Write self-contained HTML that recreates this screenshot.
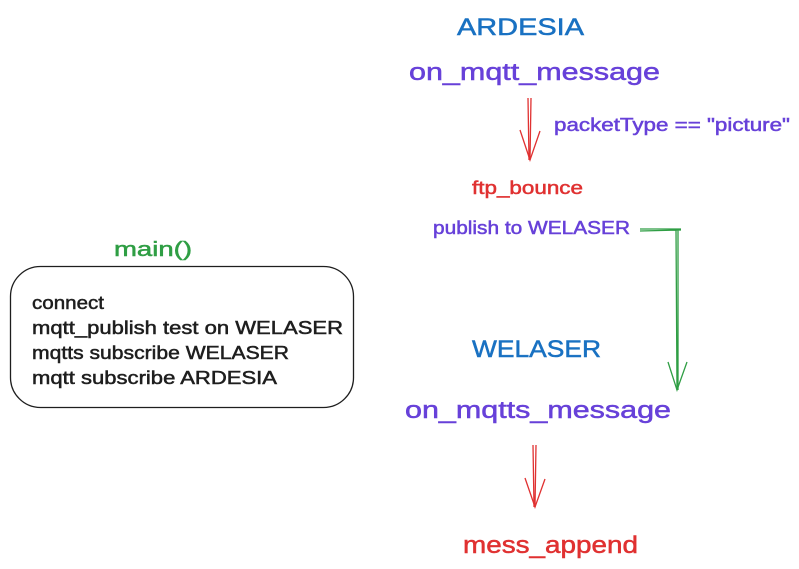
<!DOCTYPE html>
<html><head><style>html,body{margin:0;padding:0;background:#fff;}svg{display:block}text{stroke-width:0.5}</style></head>
<body>
<svg width="799" height="569" xmlns="http://www.w3.org/2000/svg" font-family="Liberation Sans, sans-serif">
<rect width="799" height="569" fill="#fff"/>
<text x="457" y="35" font-size="24" fill="#1971c2" stroke="#1971c2" textLength="127" lengthAdjust="spacingAndGlyphs">ARDESIA</text>
<text x="409" y="80" font-size="24" fill="#6741d9" stroke="#6741d9" textLength="251" lengthAdjust="spacingAndGlyphs">on_mqtt_message</text>
<g stroke="#e03131" stroke-width="1.3" fill="none">
<path d="M528 98 L529 160 M531 98 L530 160"/>
<path d="M520 130 L530 160 L540 131"/>
</g>
<text x="554" y="131" font-size="18" fill="#6741d9" stroke="#6741d9" textLength="236" lengthAdjust="spacingAndGlyphs">packetType == "picture"</text>
<text x="472" y="194" font-size="18" fill="#e03131" stroke="#e03131" textLength="111" lengthAdjust="spacingAndGlyphs">ftp_bounce</text>
<text x="433" y="234" font-size="18" fill="#6741d9" stroke="#6741d9" textLength="197" lengthAdjust="spacingAndGlyphs">publish to WELASER</text>
<g stroke="#2f9e44" stroke-width="1.3" fill="none">
<path d="M640 229 L681 229 M640 231 L681 230 M676 229 L677 390 M678 229 L678 390"/>
<path d="M668 362 L677 390 L687 362"/>
</g>
<text x="114" y="256" font-size="20" fill="#2f9e44" stroke="#2f9e44" textLength="78" lengthAdjust="spacingAndGlyphs">main()</text>
<rect x="10.5" y="266.5" width="343" height="141" rx="30" ry="30" fill="none" stroke="#1e1e1e" stroke-width="1.3"/>
<g font-size="18" fill="#1e1e1e" stroke="#1e1e1e">
<text x="32" y="309" textLength="72" lengthAdjust="spacingAndGlyphs">connect</text>
<text x="32" y="334" textLength="311" lengthAdjust="spacingAndGlyphs">mqtt_publish test on WELASER</text>
<text x="32" y="359" textLength="257" lengthAdjust="spacingAndGlyphs">mqtts subscribe WELASER</text>
<text x="32" y="384" textLength="245" lengthAdjust="spacingAndGlyphs">mqtt subscribe ARDESIA</text>
</g>
<text x="472" y="357" font-size="24" fill="#1971c2" stroke="#1971c2" textLength="129" lengthAdjust="spacingAndGlyphs">WELASER</text>
<text x="405" y="418" font-size="24" fill="#6741d9" stroke="#6741d9" textLength="266" lengthAdjust="spacingAndGlyphs">on_mqtts_message</text>
<g stroke="#e03131" stroke-width="1.3" fill="none">
<path d="M533 445 L534 507 M536 445 L535 507"/>
<path d="M525 478 L535 507 L545 479"/>
</g>
<text x="463" y="553" font-size="24" fill="#e03131" stroke="#e03131" textLength="175" lengthAdjust="spacingAndGlyphs">mess_append</text>
</svg>
</body></html>
